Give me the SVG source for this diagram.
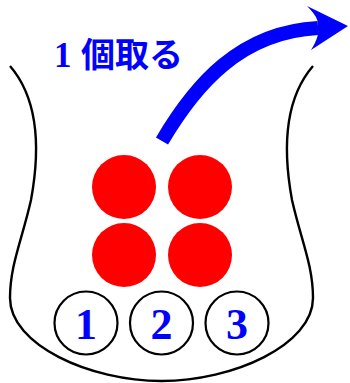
<svg xmlns="http://www.w3.org/2000/svg" width="350" height="383" viewBox="0 0 350 383">
<style>
.ball{fill:#ff0000}
.slot{fill:#ffffff;stroke:#000;stroke-width:2.2}
.num{font-family:"Liberation Serif",serif;font-weight:bold;font-size:44px;fill:#0000ff;text-anchor:middle}
.label{font-weight:bold;fill:#0000ff}
</style>
<rect width="350" height="383" fill="#fff"/>
<g id="container">
<path d="M10,66 C35,95 42,140 31,200 C22,240 10,265 10,298 C10,345 90,381 161.5,381 C233,381 313,345 313,298 C313,265 301,240 292,200 C281,140 288,95 313,66" fill="none" stroke="#000" stroke-width="2.4"/>
</g>
<g id="balls">
<circle class="ball" cx="124" cy="187" r="32"/>
<circle class="ball" cx="200" cy="187" r="32"/>
<circle class="ball" cx="124" cy="255" r="32"/>
<circle class="ball" cx="200" cy="255" r="32"/>
</g>
<g id="slot1"><circle class="slot" cx="86" cy="323" r="31.5"/><text class="num" x="86" y="339">1</text></g>
<g id="slot2"><circle class="slot" cx="161.5" cy="323" r="31.5"/><text class="num" x="161.5" y="339">2</text></g>
<g id="slot3"><circle class="slot" cx="237" cy="323" r="31.5"/><text class="num" x="237" y="339">3</text></g>
<g id="connectors">
<path d="M162,141 C195,85 240,32 318,28" fill="none" stroke="#0000ff" stroke-width="14"/>
<path d="M348,26 L307,6 Q321,20 317,27 Q321,34 311,50 Z" fill="#0000ff"/>
</g>
<g id="label">
<text class="label" y="67"><tspan x="54" font-family="Liberation Serif,serif" font-size="35">1</tspan><tspan x="81" font-family="Noto Sans CJK JP,sans-serif" font-size="34">個取る</tspan></text>
</g>
</svg>
